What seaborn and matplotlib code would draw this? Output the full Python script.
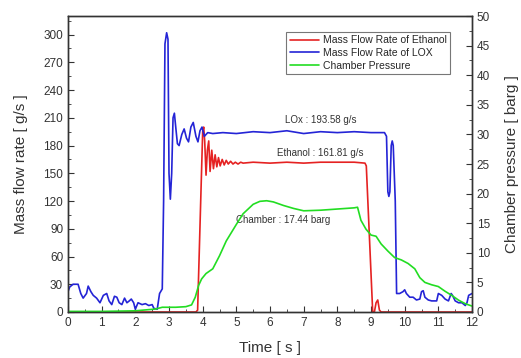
import numpy as np
import pandas as pd
import seaborn as sns
import matplotlib.pyplot as plt
from matplotlib.ticker import MultipleLocator

# LOX mass flow rate [g/s]
lox_t = [0.0, 0.05, 0.15, 0.3, 0.38, 0.45, 0.55, 0.6, 0.68, 0.75, 0.85, 0.95, 1.05, 1.15, 1.22, 1.3,
         1.38, 1.45, 1.52, 1.6, 1.68, 1.75, 1.82, 1.88, 1.95, 2.0, 2.08, 2.2, 2.3, 2.4, 2.5, 2.55,
         2.65, 2.72, 2.8, 2.84, 2.88, 2.93, 2.97, 3.0, 3.04, 3.08, 3.12, 3.16, 3.2, 3.25, 3.3, 3.38,
         3.45, 3.52, 3.58, 3.65, 3.72, 3.8, 3.86, 3.92, 3.98, 4.05, 4.15, 4.3, 4.6, 5.0, 5.5, 6.0,
         6.5, 7.0, 7.5, 8.0, 8.5, 9.0, 9.4, 9.46, 9.5, 9.53, 9.56, 9.6, 9.63, 9.66, 9.72, 9.76,
         9.85, 9.95, 10.0, 10.05, 10.15, 10.25, 10.35, 10.45, 10.5, 10.55, 10.6, 10.7, 10.8, 10.95,
         11.0, 11.1, 11.2, 11.3, 11.38, 11.42, 11.5, 11.6, 11.7, 11.8, 11.85, 11.9, 12.0]
lox_v = [22, 27, 30, 30, 20, 15, 20, 28, 22, 18, 15, 10, 18, 20, 12, 8,
         17, 16, 10, 8, 15, 10, 12, 14, 10, 3, 10, 8, 9, 7, 8, 4,
         3, 20, 25, 120, 290, 302, 295, 150, 122, 150, 210, 215, 200, 182, 180, 192,
         198, 188, 184, 200, 205, 190, 184, 196, 200, 190, 194, 193, 194, 193, 195, 194,
         196, 193, 195, 194, 195, 194, 194, 190, 130, 125, 130, 180, 185, 180, 120, 20,
         20, 22, 24, 20, 16, 16, 13, 14, 22, 23, 16, 13, 12, 12,
         20, 18, 14, 12, 20, 18, 12, 10, 10, 7, 10, 18, 20]

# Ethanol mass flow rate [g/s]
eth_t = [0.0, 3.8, 3.85, 4.0, 4.03, 4.06, 4.1, 4.14, 4.18, 4.22, 4.27, 4.32, 4.37, 4.42, 4.47,
         4.52, 4.58, 4.64, 4.7, 4.76, 4.83, 4.9, 4.97, 5.05, 5.13, 5.2, 5.5, 6.0, 6.5, 7.0, 7.5,
         8.0, 8.5, 8.82, 8.86, 9.05, 9.1, 9.15, 9.2, 9.25, 9.3, 12.0]
eth_v = [0, 0, 2, 195, 200, 185, 148, 175, 185, 152, 175, 155, 170, 157, 167,
         158, 165, 159, 164, 160, 163, 160, 162, 160, 162, 161, 162, 161, 162, 161, 162,
         162, 162, 161, 158, 0, 0, 10, 13, 2, 0, 0]

# Chamber pressure [barg]
pc_t = [0.0, 1.0, 2.0, 2.6, 2.8, 3.2, 3.5, 3.67, 3.78, 3.88, 3.97, 4.1, 4.3, 4.5, 4.7, 5.0,
        5.2, 5.5, 5.7, 5.9, 6.1, 6.4, 6.7, 7.0, 7.5, 8.0, 8.5, 8.6, 8.7, 8.85, 9.0, 9.15,
        9.3, 9.5, 9.7, 9.9, 10.1, 10.3, 10.45, 10.6, 10.8, 11.0, 11.2, 11.4, 11.6, 11.8, 12.0]
pc_v = [0.1, 0.1, 0.2, 0.5, 0.8, 0.8, 0.9, 1.2, 2.5, 4.5, 5.6, 6.5, 7.3, 9.5, 12.0, 14.8,
        16.6, 18.2, 18.7, 18.8, 18.6, 18.0, 17.5, 17.1, 17.2, 17.4, 17.6, 17.7, 15.5, 14.0, 13.0, 12.8,
        11.5, 10.3, 9.2, 8.8, 8.2, 7.3, 5.8, 5.0, 4.6, 4.3, 3.5, 2.8, 2.0, 1.4, 1.0]

lox = pd.DataFrame({'t': lox_t, 'v': lox_v})
eth = pd.DataFrame({'t': eth_t, 'v': eth_v})
pc = pd.DataFrame({'t': pc_t, 'v': pc_v})

sns.set_style('ticks')
plt.rcParams['font.family'] = ['Liberation Sans', 'DejaVu Sans']

fig = plt.figure(figsize=(5.21, 3.58), dpi=100)
ax = fig.add_axes([0.1305, 0.1285, 0.7755, 0.8265])
ax2 = ax.twinx()

sns.lineplot(data=eth, x='t', y='v', ax=ax, color='#e52222', lw=1.2, label='Mass Flow Rate of Ethanol', legend=False)
sns.lineplot(data=lox, x='t', y='v', ax=ax, color='#2424d6', lw=1.2, label='Mass Flow Rate of LOX', legend=False)
sns.lineplot(data=pc, x='t', y='v', ax=ax2, color='#22dd22', lw=1.2, label='Chamber Pressure', legend=False)

ax.set_xlim(0, 12)
ax.set_ylim(0, 320)
ax2.set_ylim(0, 50)
ax.xaxis.set_major_locator(MultipleLocator(1))
ax.xaxis.set_minor_locator(MultipleLocator(0.5))
ax.yaxis.set_major_locator(MultipleLocator(30))
ax.yaxis.set_minor_locator(MultipleLocator(15))
ax2.yaxis.set_major_locator(MultipleLocator(5))
ax2.yaxis.set_minor_locator(MultipleLocator(2.5))

for a in (ax, ax2):
    a.tick_params(which='both', direction='in', labelsize=8.5, colors='#333333')
    a.tick_params(which='major', length=4)
    a.tick_params(which='minor', length=2)
    for s in a.spines.values():
        s.set_color('#333333')
        s.set_linewidth(1.0)

ax.set_xlabel('Time [ s ]', fontsize=11, color='#333333', labelpad=9)
ax.set_ylabel('Mass flow rate [ g/s ]', fontsize=11, color='#333333', labelpad=11)
ax2.set_ylabel('Chamber pressure [ barg ]', fontsize=11, color='#333333', labelpad=11)

ax.text(6.45, 208, 'LOx : 193.58 g/s', fontsize=7, color='#333333', va='center')
ax.text(6.2, 172, 'Ethanol : 161.81 g/s', fontsize=7, color='#333333', va='center')
ax.text(5.0, 100, 'Chamber : 17.44 barg', fontsize=7, color='#333333', va='center')

h1, l1 = ax.get_legend_handles_labels()
h2, l2 = ax2.get_legend_handles_labels()
leg = ax2.legend(h1 + h2, l1 + l2, loc='upper right', bbox_to_anchor=(0.958, 0.963),
                 fontsize=7.5, frameon=True, fancybox=False, edgecolor='#555555',
                 borderpad=0.3, labelspacing=0.25, handlelength=2.8, handletextpad=0.4)
leg.get_frame().set_linewidth(0.8)

fig.savefig('out.png', dpi=100)
